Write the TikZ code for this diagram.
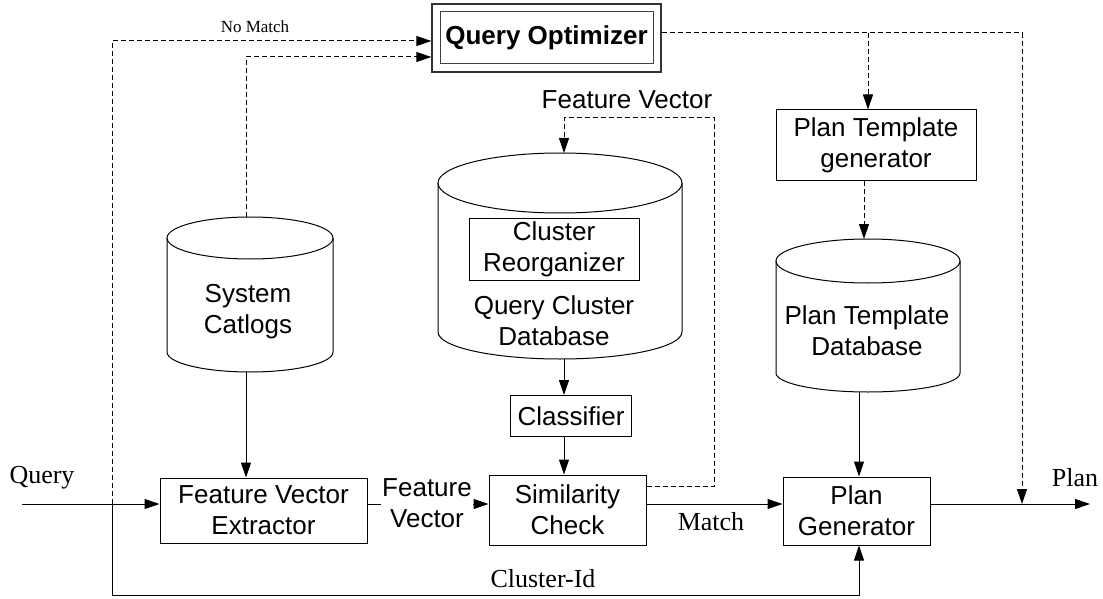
\documentclass[tikz,border=0pt]{standalone}
\usepackage{fontspec}
\newfontfamily\hv{Liberation Sans}
\newfontfamily\tm{Liberation Serif}
\usetikzlibrary{arrows.meta}
\newcommand\mycyl[6]{% cx, ytop, rx, ry, ybot, rybot
  \draw (#1-#3,#2) -- (#1-#3,#5) arc[start angle=180,end angle=0,x radius=#3,y radius=#6] -- (#1+#3,#2);
  \draw (#1,#2) ellipse[x radius=#3,y radius=#4];}
\begin{document}
\begin{tikzpicture}[x=1pt,y=-1pt,line width=1pt,
  box/.style={draw,line width=1pt,inner sep=0pt,font=\hv\fontsize{26}{31}\selectfont,align=center},
  sl/.style={inner sep=0pt,font=\hv\fontsize{26}{31}\selectfont,align=center},
  lbl/.style={inner sep=0pt,font=\tm\fontsize{26}{30}\selectfont},
  arr/.style={-{Triangle[length=15pt,width=10pt]}},
  dsh/.style={dash pattern=on 5pt off 3pt}]
\useasboundingbox (0,0) rectangle (1103,599);
\fill[white] (0,0) rectangle (1103,599);

% cylinders
\mycyl{250}{238}{83}{21}{352}{20}
\mycyl{560}{183}{122}{30}{332}{27}
\mycyl{868}{261}{92}{22}{373}{19}
\coordinate (sct) at (246,217);
\coordinate (scb) at (246,372);
\coordinate (qct) at (564,153);
\coordinate (qcb) at (564,359);
\coordinate (ptt) at (864,239);
\coordinate (ptb) at (859,392);
\coordinate (qob) at (868,33);
\node[sl] (sc) at (248,312) {System\\Catlogs};
\node[sl] (qcd) at (554,321) {Query Cluster\\Database};
\node[sl] (ptd) at (867,331) {Plan Template\\Database};
\node[box,minimum width=170,minimum height=62] (cr) at (554,249) {Cluster\\Reorganizer};

% boxes
\node[draw,line width=1.3pt,draw=black!80,minimum width=229,minimum height=68] (qo) at (546.5,38) {};
\node[box,draw=black!75,minimum width=213,minimum height=52,font=\hv\bfseries\fontsize{26}{31}\selectfont] (qoi) at (546.5,38) {Query Optimizer};
\node[box,minimum width=200,minimum height=70] (ptg) at (876,145) {Plan Template\\generator};
\node[box,minimum width=121,minimum height=41] (cls) at (571,416) {Classifier};
\node[box,minimum width=207,minimum height=65] (fve) at (263.5,510.5) {Feature Vector\\Extractor};
\node[box,minimum width=157,minimum height=70] (sim) at (567.5,510) {Similarity\\Check};
\node[box,minimum width=147,minimum height=68] (pg) at (856.5,511) {Plan\\Generator};

% labels
\node[lbl] (lq) at (42,478) {Query};
\node[lbl] (lp) at (1075,478) {Plan};
\node[lbl] (lm) at (711,522) {Match};
\node[lbl] (lc) at (543,579) {Cluster-Id};
\node[lbl,font=\tm\fontsize{17}{20}\selectfont] (ln) at (255,27) {No Match};
\node[sl] (lfv) at (627,100) {Feature Vector};

\coordinate (ml) at (0,504);
\coordinate (qs) at (22,504);
\coordinate (jn) at (112,504);
\coordinate (out) at (1090,504);

% solid connectors
\draw[arr] (qs) -- (fve.west |- ml);
\draw[arr] (fve.east |- ml) -- (sim.west |- ml);
\node[sl,fill=white,inner sep=1pt] (lfv2) at (427,503) {Feature\\Vector};
\draw[arr] (sim.east |- ml) -- (pg.west |- ml);
\draw[arr] (pg.east |- ml) -- (out);
\draw[arr] (scb) -- (scb |- fve.north);
\draw[arr] (qcb) -- (qcb |- cls.north);
\draw[arr] (cls.south -| qcb) -- (qcb |- sim.north);
\draw[arr] (ptb) -- (ptb |- pg.north);
\draw[arr] (jn) -- (112,595) -- (859,595) -- (pg.south -| ptb);

% dashed connectors
\draw[arr,dsh] (jn) -- (112,41) -- (qo.west |- 0,41);
\draw[arr,dsh] (sct) -- (246,57) -- (qo.west |- 0,57);
\draw[dsh] (qo.east |- 0,33) -- (1022,33);
\draw[arr,dsh] (1022,33) -- (1022,504);
\draw[arr,dsh] (qob) -- (qob |- ptg.north);
\draw[arr,dsh] (ptg.south -| ptt) -- (ptt);
\draw[arr,dsh] (sim.east |- 0,486) -- (714,486) -- (714,118) -- (564,118) -- (qct);
\end{tikzpicture}
\end{document}
